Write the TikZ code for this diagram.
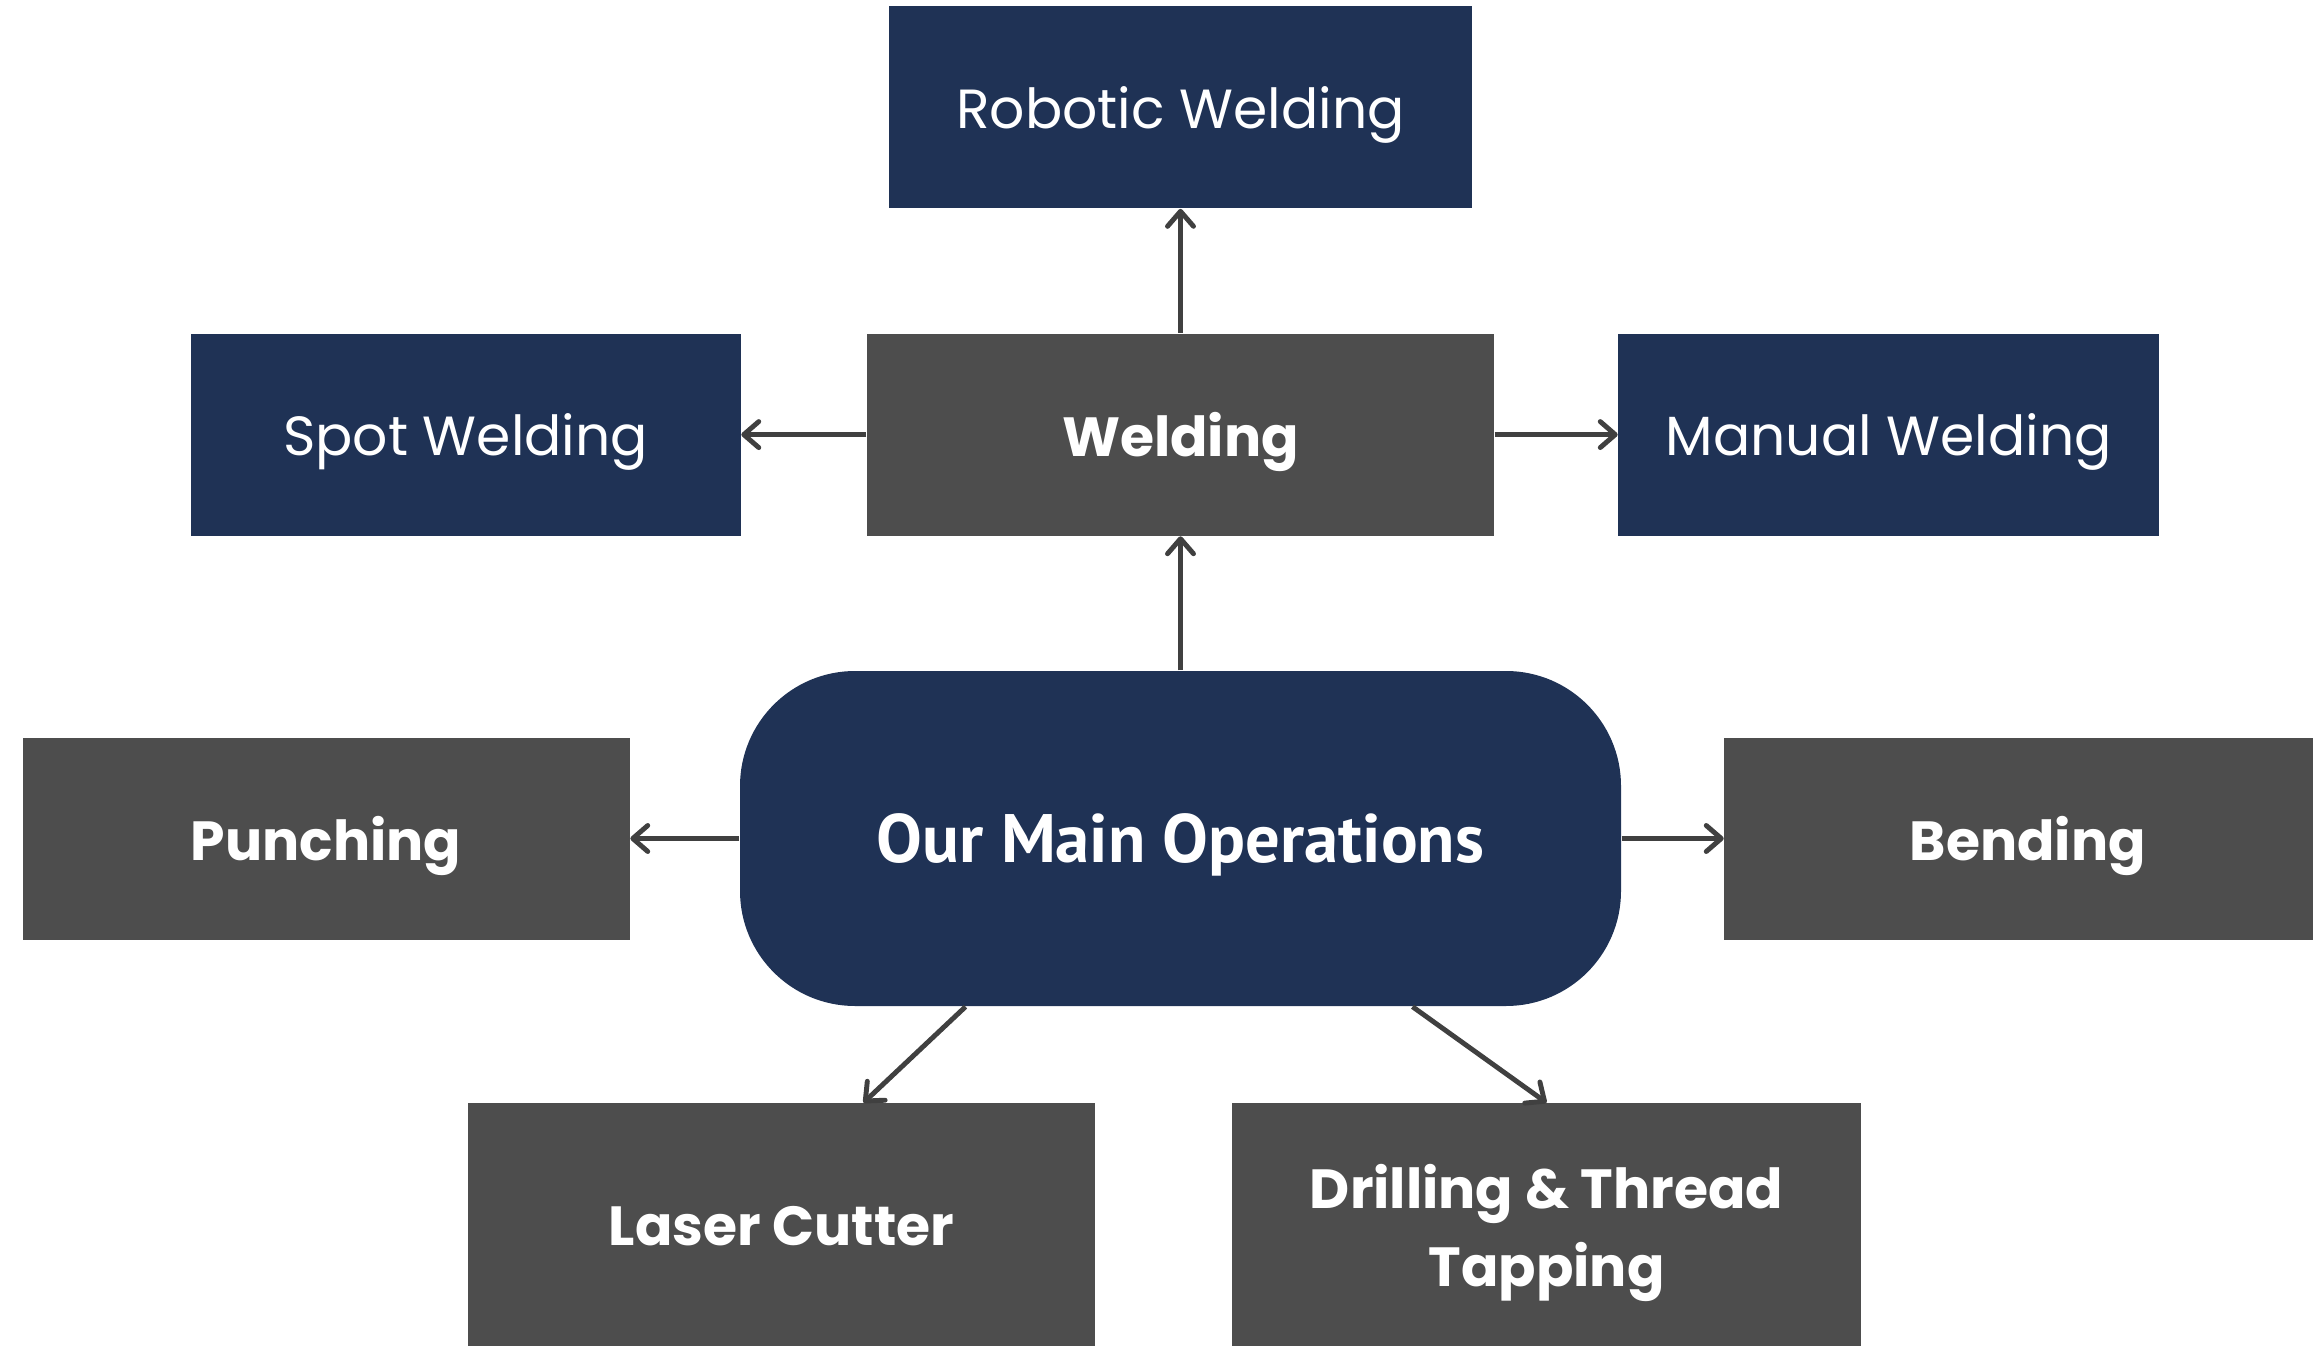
\documentclass[tikz,border=0pt]{standalone}
\usepackage{fontspec}
\setmainfont{Poppins}
\newfontfamily\opsfont{PT Sans}
\usetikzlibrary{positioning,arrows.meta}
\definecolor{navy}{HTML}{1F3255}
\definecolor{slate}{HTML}{4D4D4D}
\definecolor{linkgray}{HTML}{404040}

\tikzset{
	box/.style={rectangle, inner sep=0pt, minimum height=2.02cm, text=white, align=center, text depth=0pt, font=\fontsize{15.7}{22}\selectfont},
	subbox/.style={box, fill=navy},
	opbox/.style={box, fill=slate, font=\fontsize{15.7}{22}\selectfont\bfseries},
	link/.style={draw=linkgray, line width=1.4pt, -{Straight Barb[length=0.15cm, width=0.26cm, line cap=round, line join=round]}},
}

\begin{document}
\begin{tikzpicture}
		\useasboundingbox (0,0) rectangle (23.13,-13.46);
		\node [fill=navy, rounded corners=1.15cm, minimum width=8.81cm, minimum height=3.35cm, text=white, text depth=0pt, font=\opsfont\fontsize{19.5}{24}\selectfont\bfseries] (ops) at (11.805,-8.385) {Our Main Operations};
		\node [opbox, minimum width=6.27cm, above=1.34cm of ops] (weld) {Welding};
		\node [subbox, minimum width=5.83cm, above=1.24cm of weld] (robot) {Robotic Welding};
		\node [subbox, minimum width=5.50cm, left=1.25cm of weld] (spot) {Spot Welding};
		\node [subbox, minimum width=5.41cm, right=1.23cm of weld] (manual) {Manual Welding};
		\node [opbox, minimum width=6.07cm, left=1.09cm of ops] (punch) {Punching};
		\node [opbox, minimum width=6.07cm, right=1.02cm of ops] (bend) {Bending};
		\node [opbox, minimum width=6.27cm, minimum height=2.44cm, below=0.96cm of ops, xshift=-3.99cm] (laser) {Laser Cutter};
		\node [opbox, minimum width=6.29cm, minimum height=2.44cm, below=0.96cm of ops, xshift=3.66cm] (drill) {Drilling \& Thread\\Tapping};
		
		\draw [link] (ops.north) -- (weld.south);
		\draw [link] (weld.north) -- (robot.south);
		\draw [link] (weld.west) -- (spot.east);
		\draw [link] (weld.east) -- (manual.west);
		\draw [link] (ops.west) -- (punch.east);
		\draw [link] (ops.east) -- (bend.west);
		\draw [link] ([xshift=-2.15cm]ops.south) -- ([xshift=0.82cm]laser.north);
		\draw [link] ([xshift=2.32cm]ops.south) -- (drill.north);
	\end{tikzpicture}
\end{document}
